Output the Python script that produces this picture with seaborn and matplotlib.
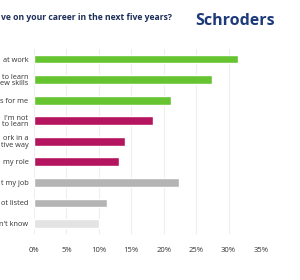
import matplotlib
matplotlib.use('Agg')
import matplotlib.pyplot as plt
import seaborn as sns
import pandas as pd

# answers (left part of the labels is cut off in the original image)
labels = ['at work', 'to learn\new skills', 's for me', "I'm not\nto learn",
          'ork in a\ntive way', 'my role', 't my job', 'ot listed', "n't know"]
values = [31.4, 27.5, 21.1, 18.3, 14.0, 13.1, 22.4, 11.2, 10.0]
colors = ['#67c431', '#67c431', '#67c431', '#b5145f', '#b5145f', '#b5145f',
          '#b4b4b4', '#b4b4b4', '#e3e3e3']
ticks = [0, 5, 10, 15, 20, 25, 30, 35]

data = pd.DataFrame({'answer': labels, 'share': values})

sns.set_style('white')
plt.rcParams['font.family'] = ['Open Sans', 'DejaVu Sans']

fig = plt.figure(figsize=(3.0, 2.8), dpi=100)
ax = fig.add_axes([34 / 300, 1 - 233.6 / 280, (261 - 34) / 300, (233.6 - 48.9) / 280])

sns.barplot(data=data, x='share', y='answer', hue='answer', palette=colors,
            saturation=1, legend=False, width=0.42, ax=ax, zorder=3)

ax.set_xlim(0, 35)
ax.set_ylim(8.5, -0.5)
ax.set_xticks(ticks)
ax.set_xticklabels([f'{t}%' for t in ticks], fontsize=5.5, color='#333333')
ax.tick_params(axis='y', labelsize=5.3, labelcolor='#333333', length=0, pad=4)
ax.tick_params(axis='x', length=0, pad=10)
for lbl in ax.get_yticklabels():
    lbl.set_linespacing(0.95)
ax.grid(axis='x', color='#eeeeee', linewidth=0.8, zorder=0)
ax.set_xlabel('')
ax.set_ylabel('')
sns.despine(ax=ax, left=True, bottom=True)

fig.text(0.003, 1 - 17 / 280, 've on your career in the next five years?', fontsize=6.2,
         fontweight='bold', color='#1d2f5a', va='center', ha='left')
fig.text(195 / 300, 1 - 21 / 280, 'Schroders', fontsize=11.5, fontweight='bold',
         color='#1d3a7a', va='center', ha='left')

fig.savefig('out.png', dpi=100)
